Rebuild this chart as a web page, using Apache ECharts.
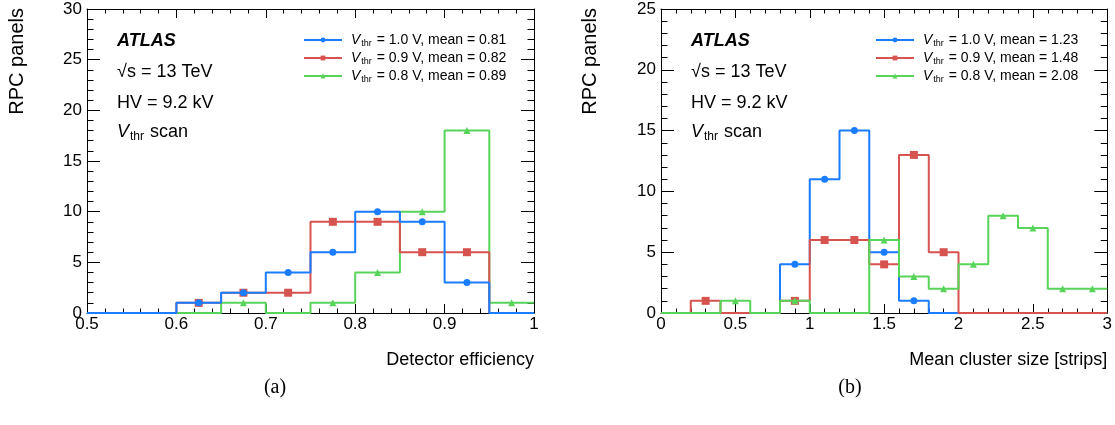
<!DOCTYPE html>
<html>
<head>
<meta charset="utf-8">
<script src="https://cdn.jsdelivr.net/npm/echarts@6/dist/echarts.min.js"></script>
<style>
html,body{margin:0;padding:0;background:#fff;}
#chart{width:1115px;height:425px;}
</style>
</head>
<body>
<div id="chart"></div>
<script>
// ---- Data ----
const effEdges = [0.5, 0.55, 0.6, 0.65, 0.7, 0.75, 0.8, 0.85, 0.9, 0.95, 1.0];
const effV10 = [0, 0, 1, 2, 4, 6, 10, 9, 3, 0];
const effV09 = [0, 0, 1, 2, 2, 9, 9, 6, 6, 0];
const effV08 = [0, 0, 0, 1, 0, 1, 4, 10, 18, 1];
const effNames = ['Vthr = 1.0 V, mean = 0.81', 'Vthr = 0.9 V, mean = 0.82', 'Vthr = 0.8 V, mean = 0.89'];

const csEdges = [0, 0.2, 0.4, 0.6, 0.8, 1.0, 1.2, 1.4, 1.6, 1.8, 2.0, 2.2, 2.4, 2.6, 2.8, 3.0];
const csV10 = [0, 0, 0, 0, 4, 11, 15, 5, 1, 0, 0, 0, 0, 0, 0];
const csV09 = [0, 1, 0, 0, 1, 6, 6, 4, 13, 5, 0, 0, 0, 0, 0];
const csV08 = [0, 0, 1, 0, 1, 0, 0, 6, 3, 2, 4, 8, 7, 2, 2];
const csNames = ['Vthr = 1.0 V, mean = 1.23', 'Vthr = 0.9 V, mean = 1.48', 'Vthr = 0.8 V, mean = 2.08'];

const yTitle = 'RPC panels';
const xTitles = ['Detector efficiency', 'Mean cluster size [strips]'];
const captions = ['(a)', '(b)'];

// ---- Styles ----
const COLORS = ['#1a7cff', '#d6534f', '#59d45a'];
const SYMBOLS = ['circle', 'rect', 'triangle'];
const SYMSIZE = [7, 8, 7];
const FONT = 'Liberation Sans, Arial, Helvetica, sans-serif';

function histData(edges, vals) {
  const out = [];
  for (let i = 0; i < vals.length; i++) {
    out.push({ value: [edges[i], vals[i]], symbol: 'none', symbolSize: 0 });
    const c = (edges[i] + edges[i + 1]) / 2;
    if (vals[i] > 0) out.push({ value: [c, vals[i]] });
    else out.push({ value: [c, vals[i]], symbol: 'none', symbolSize: 0 });
  }
  out.push({ value: [edges[edges.length - 1], vals[vals.length - 1]], symbol: 'none', symbolSize: 0 });
  return out;
}

function mkSeries(name, idx, gi, edges, vals, z) {
  return {
    type: 'line', name: name, step: 'end',
    xAxisIndex: gi * 2, yAxisIndex: gi * 2,
    data: histData(edges, vals),
    symbol: SYMBOLS[idx], symbolSize: SYMSIZE[idx], showAllSymbol: true,
    lineStyle: { color: COLORS[idx], width: 2 },
    itemStyle: { color: COLORS[idx], borderWidth: 0 },
    z: z, silent: true, clip: false
  };
}

function xAxes(gi, min, max, interval, title) {
  const base = {
    gridIndex: gi, type: 'value', min: min, max: max, interval: interval,
    axisLine: { show: true, onZero: false, lineStyle: { color: '#000', width: 1 } },
    axisTick: { show: true, inside: true, length: 9, lineStyle: { color: '#000' } },
    minorTick: { show: true, splitNumber: 5, length: 4.5, lineStyle: { color: '#000' } },
    splitLine: { show: false }
  };
  return [
    Object.assign({}, base, {
      position: 'bottom',
      axisLabel: { show: true, margin: 3, color: '#000', fontSize: 17, fontFamily: FONT,
        formatter: v => String(Math.round(v * 10) / 10) },
      name: title, nameLocation: 'end', nameGap: 0,
      nameTextStyle: { color: '#000', fontSize: 18, fontFamily: FONT, align: 'right', verticalAlign: 'top', padding: [38, 0, 0, 0] }
    }),
    Object.assign({}, base, { position: 'top', axisLabel: { show: false } })
  ];
}

function yAxes(gi, max) {
  const base = {
    gridIndex: gi, type: 'value', min: 0, max: max, interval: 5,
    axisLine: { show: true, onZero: false, lineStyle: { color: '#000', width: 1 } },
    axisTick: { show: true, inside: true, length: 13, lineStyle: { color: '#000' } },
    minorTick: { show: true, splitNumber: 5, length: 6.5, lineStyle: { color: '#000' } },
    splitLine: { show: false }
  };
  return [
    Object.assign({}, base, { position: 'left',
      axisLabel: { show: true, margin: 5, color: '#000', fontSize: 17, fontFamily: FONT } }),
    Object.assign({}, base, { position: 'right', axisLabel: { show: false } })
  ];
}

const legendRich = {
  v: { fontStyle: 'italic', fontSize: 14, fontFamily: FONT, color: '#000', padding: [0, 0, 0, 4] },
  s: { fontSize: 9, fontFamily: FONT, color: '#000', padding: [7, 1, 0, 1] },
  t: { fontSize: 14, fontFamily: FONT, color: '#000' }
};
function legendFmt(name) {
  return '{v|V}{s|thr}{t|' + name.replace(/^Vthr/, '') + '}';
}
function mkLegend(names, left) {
  return {
    data: names, orient: 'vertical', left: left, top: 33,
    itemWidth: 38, itemHeight: 6, itemGap: 3, selectedMode: false,
    formatter: legendFmt, textStyle: { rich: legendRich, fontSize: 14, fontFamily: FONT, color: '#000' },
    padding: 0
  };
}

function panelTexts(dx) {
  const t = [];
  t.push({ type: 'text', x: 117 + dx, y: 41, style: { text: 'ATLAS', font: 'italic bold 18px ' + FONT, fill: '#000', verticalAlign: 'middle' } });
  t.push({ type: 'text', x: 117 + dx, y: 72, style: { text: '\u221As = 13 TeV', font: '18px ' + FONT, fill: '#000', verticalAlign: 'middle' } });
  t.push({ type: 'text', x: 117 + dx, y: 103, style: { text: 'HV = 9.2 kV', font: '18px ' + FONT, fill: '#000', verticalAlign: 'middle' } });
  t.push({ type: 'text', x: 117 + dx, y: 132, style: {
    text: '{v|V}{s|thr}{t| scan}', verticalAlign: 'middle',
    rich: {
      v: { font: 'italic 18px ' + FONT, fill: '#000' },
      s: { font: '12px ' + FONT, fill: '#000', padding: [10, 1, 0, 1] },
      t: { font: '18px ' + FONT, fill: '#000' }
    } } });
  return t;
}

const graphics = [].concat(
  panelTexts(0), panelTexts(574),
  [
    { type: 'text', x: 17, y: 8, rotation: Math.PI / 2, style: { text: yTitle, font: '20px ' + FONT, fill: '#000', align: 'right', verticalAlign: 'middle' } },
    { type: 'text', x: 590, y: 8, rotation: Math.PI / 2, style: { text: yTitle, font: '20px ' + FONT, fill: '#000', align: 'right', verticalAlign: 'middle' } },
    { type: 'text', x: 275, y: 388, style: { text: captions[0], font: '20px Liberation Serif, Times New Roman, serif', fill: '#000', align: 'center', verticalAlign: 'middle' } },
    { type: 'text', x: 850, y: 388, style: { text: captions[1], font: '20px Liberation Serif, Times New Roman, serif', fill: '#000', align: 'center', verticalAlign: 'middle' } }
  ]
);

const option = {
  animation: false,
  backgroundColor: '#fff',
  grid: [
    { left: 87, top: 9, width: 447, height: 304 },
    { left: 661, top: 9, width: 447, height: 304 }
  ],
  xAxis: [].concat(xAxes(0, 0.5, 1.0, 0.1, xTitles[0]), xAxes(1, 0, 3, 0.5, xTitles[1])),
  yAxis: [].concat(yAxes(0, 30), yAxes(1, 25)),
  legend: [mkLegend(effNames, 303), mkLegend(csNames, 875)],
  series: [
    mkSeries(effNames[0], 0, 0, effEdges, effV10, 5),
    mkSeries(effNames[1], 1, 0, effEdges, effV09, 4),
    mkSeries(effNames[2], 2, 0, effEdges, effV08, 3),
    mkSeries(csNames[0], 0, 1, csEdges, csV10, 3),
    mkSeries(csNames[1], 1, 1, csEdges, csV09, 4),
    mkSeries(csNames[2], 2, 1, csEdges, csV08, 5)
  ],
  graphic: graphics
};

const chart = echarts.init(document.getElementById('chart'), null, { renderer: 'canvas' });
chart.setOption(option);
</script>
</body>
</html>
